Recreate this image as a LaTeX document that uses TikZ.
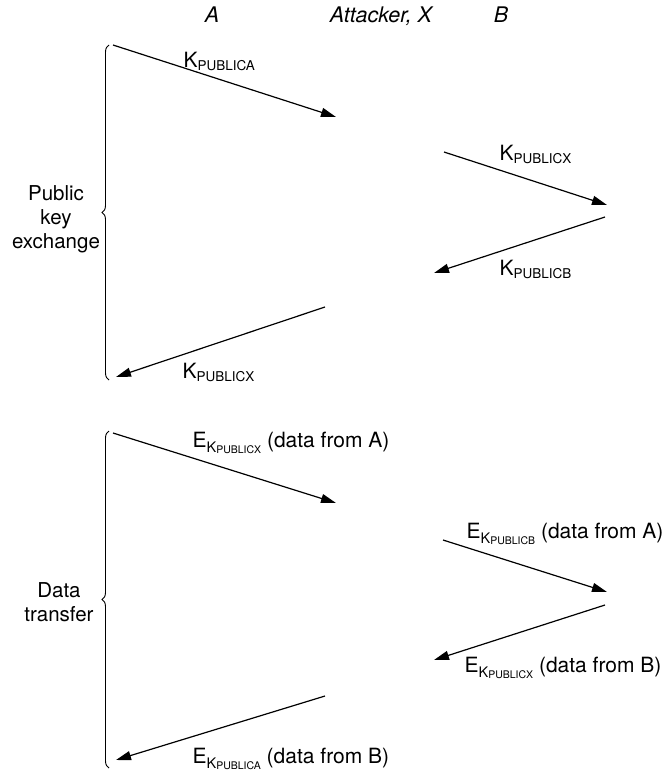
\documentclass[tikz,border=0pt]{standalone}
\usepackage{fontspec}
\setmainfont{TeX Gyre Heros}
\usetikzlibrary{arrows.meta,decorations.pathreplacing}

% key names with (nested) subscripts
\newcommand{\kpub}[1]{K\raisebox{-3pt}{\fontsize{13.5}{13.5}\selectfont PUBLIC#1}}
\newcommand{\ekpub}[1]{E\raisebox{-5.5pt}{\fontsize{14.5}{14.5}\selectfont K\raisebox{-1pt}{\fontsize{10.5}{10.5}\selectfont PUBLIC#1}}}

\begin{document}
\begin{tikzpicture}[x=1pt,y=-1pt,->,>={Triangle[length=15pt,width=9pt]},line width=1.2pt,
  every node/.style={font=\fontsize{21}{24}\selectfont,inner sep=0pt},
  lbl/.style={anchor=base west},
  side/.style={align=center,font=\fontsize{20.5}{24}\selectfont},
  hdr/.style={anchor=base,font=\fontsize{21.5}{24}\selectfont\itshape},
  grp/.style={-,line width=0.9pt,decorate,decoration={brace,amplitude=7pt}}]

  \useasboundingbox (0,0) rectangle (665,771);

  % parties
  \node[hdr] (A) at (212,23) {A};
  \node[hdr] (X) at (381,23) {Attacker, X};
  \node[hdr] (B) at (501,23) {B};

  % phases
  \coordinate (k0) at (109,45);
  \coordinate (k1) at (109,380);
  \coordinate (d0) at (109,431);
  \coordinate (d1) at (109,768);
  \draw[grp] (k1) -- (k0);
  \draw[grp] (d1) -- (d0);
  \node[side] (kx) at (56,219) {Public\\key\\exchange};
  \node[side] (dt) at (59,602) {Data\\transfer};

  % message ends
  \coordinate (a1) at (113,45);   \coordinate (b1) at (336,117);
  \coordinate (a2) at (444,152);  \coordinate (b2) at (607,205);
  \coordinate (a3) at (605,217);  \coordinate (b3) at (434,273);
  \coordinate (a4) at (325,307);  \coordinate (b4) at (116,377);
  \coordinate (a5) at (113,433);  \coordinate (b5) at (336,503);
  \coordinate (a6) at (443,540);  \coordinate (b6) at (607,592);
  \coordinate (a7) at (605,605);  \coordinate (b7) at (434,660);
  \coordinate (a8) at (325,696);  \coordinate (b8) at (116,760);

  \path (a1) edge (b1)
        (a2) edge (b2)
        (a3) edge (b3)
        (a4) edge (b4)
        (a5) edge (b5)
        (a6) edge (b6)
        (a7) edge (b7)
        (a8) edge (b8);

  \node[lbl] (l1) at (183,67) {\kpub{A}};
  \node[lbl] (l2) at (499,160) {\kpub{X}};
  \node[lbl] (l3) at (499,275) {\kpub{B}};
  \node[lbl] (l4) at (182,378) {\kpub{X}};
  \node[lbl] (l5) at (192,447) {\ekpub{X} (data from A)};
  \node[lbl] (l6) at (466,538) {\ekpub{B} (data from A)};
  \node[lbl] (l7) at (464,672) {\ekpub{X} (data from B)};
  \node[lbl] (l8) at (192,763) {\ekpub{A} (data from B)};

\end{tikzpicture}
\end{document}
